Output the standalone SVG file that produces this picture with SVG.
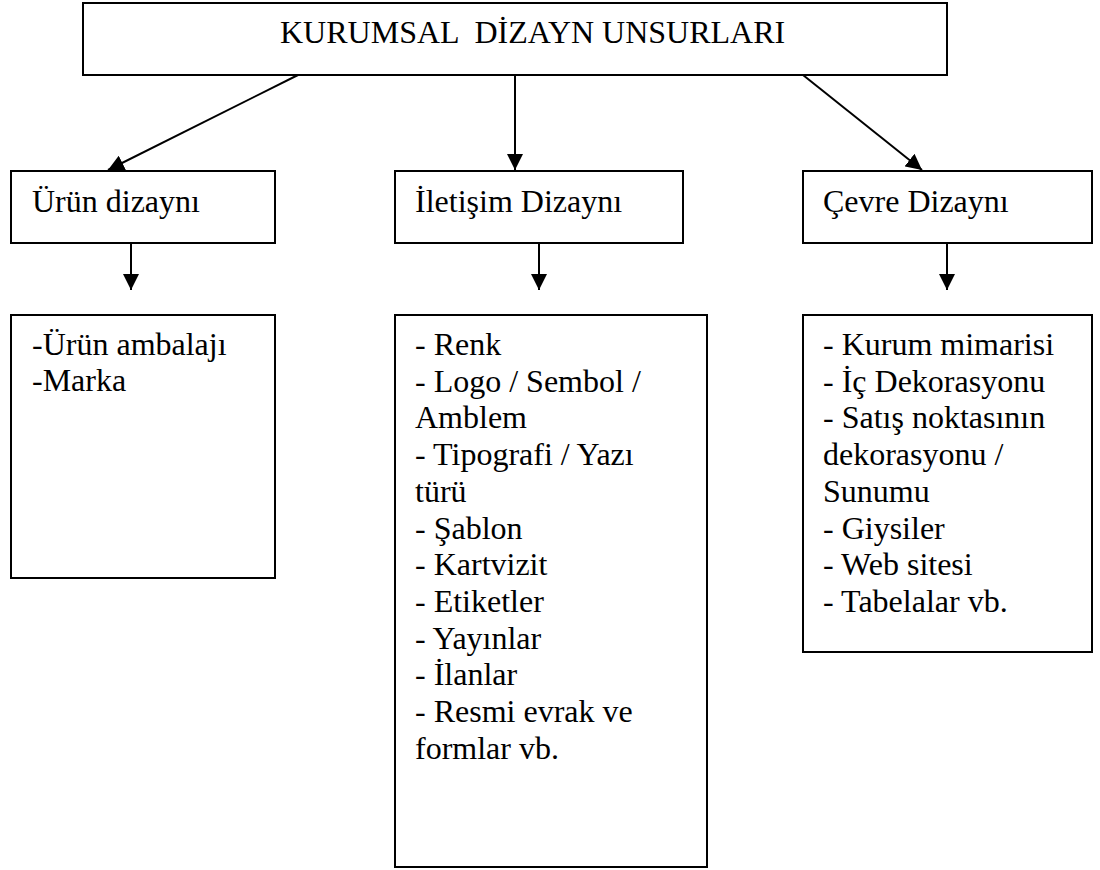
<svg xmlns="http://www.w3.org/2000/svg" width="1100" height="870" viewBox="0 0 1100 870">
<defs>
<style>
.box{fill:#fff;stroke:#000;stroke-width:2}
.t{font-family:'Liberation Serif','Times New Roman','DejaVu Serif',serif;font-size:32px;fill:#000}
.c{stroke:#000;stroke-width:2;fill:none;marker-end:url(#ah)}
</style>
<marker id="ah" markerUnits="userSpaceOnUse" markerWidth="16" markerHeight="16" viewBox="0 0 16 16" refX="16" refY="8" orient="auto">
<path d="M0,0 L16,8 L0,16 Z" fill="#000"/>
</marker>
</defs>
<rect width="1100" height="870" fill="#fff"/>
<g id="connectors">
<line class="c" x1="298" y1="75" x2="108" y2="170"/>
<line class="c" x1="515" y1="75" x2="515" y2="170"/>
<line class="c" x1="803" y1="75" x2="922" y2="170"/>
<line class="c" x1="131" y1="243" x2="131" y2="290"/>
<line class="c" x1="539" y1="243" x2="539" y2="290"/>
<line class="c" x1="947" y1="243" x2="947" y2="290"/>
</g>
<g id="root">
<rect class="box" x="83" y="3" width="864" height="72"/>
<text class="t" font-family="Liberation Serif, serif" x="280" y="43" xml:space="preserve">KURUMSAL  DİZAYN UNSURLARI</text>
</g>
<g id="urun">
<rect class="box" x="11" y="171" width="264" height="72"/>
<text class="t" x="32" y="212">Ürün dizaynı</text>
</g>
<g id="iletisim">
<rect class="box" x="395" y="171" width="288" height="72"/>
<text class="t" x="415" y="212">İletişim Dizaynı</text>
</g>
<g id="cevre">
<rect class="box" x="803" y="171" width="289" height="72"/>
<text class="t" x="823" y="212">Çevre Dizaynı</text>
</g>
<g id="urun-list">
<rect class="box" x="11" y="315" width="264" height="263"/>
<text class="t"><tspan x="32" y="355">-Ürün ambalajı</tspan><tspan x="32" y="391">-Marka</tspan></text>
</g>
<g id="iletisim-list">
<rect class="box" x="395" y="315" width="312" height="552"/>
<text class="t">
<tspan x="415" y="355">- Renk</tspan>
<tspan x="415" y="391.7">- Logo / Sembol /</tspan>
<tspan x="415" y="428.4">Amblem</tspan>
<tspan x="415" y="465.1">- Tipografi / Yazı</tspan>
<tspan x="415" y="501.8">türü</tspan>
<tspan x="415" y="538.5">- Şablon</tspan>
<tspan x="415" y="575.2">- Kartvizit</tspan>
<tspan x="415" y="611.9">- Etiketler</tspan>
<tspan x="415" y="648.6">- Yayınlar</tspan>
<tspan x="415" y="685.3">- İlanlar</tspan>
<tspan x="415" y="722">- Resmi evrak ve</tspan>
<tspan x="415" y="758.7">formlar vb.</tspan>
</text>
</g>
<g id="cevre-list">
<rect class="box" x="803" y="315" width="289" height="337"/>
<text class="t">
<tspan x="823" y="355">- Kurum mimarisi</tspan>
<tspan x="823" y="391.7">- İç Dekorasyonu</tspan>
<tspan x="823" y="428.4">- Satış noktasının</tspan>
<tspan x="823" y="465.1">dekorasyonu /</tspan>
<tspan x="823" y="501.8">Sunumu</tspan>
<tspan x="823" y="538.5">- Giysiler</tspan>
<tspan x="823" y="575.2">- Web sitesi</tspan>
<tspan x="823" y="611.9">- Tabelalar vb.</tspan>
</text>
</g>
</svg>
